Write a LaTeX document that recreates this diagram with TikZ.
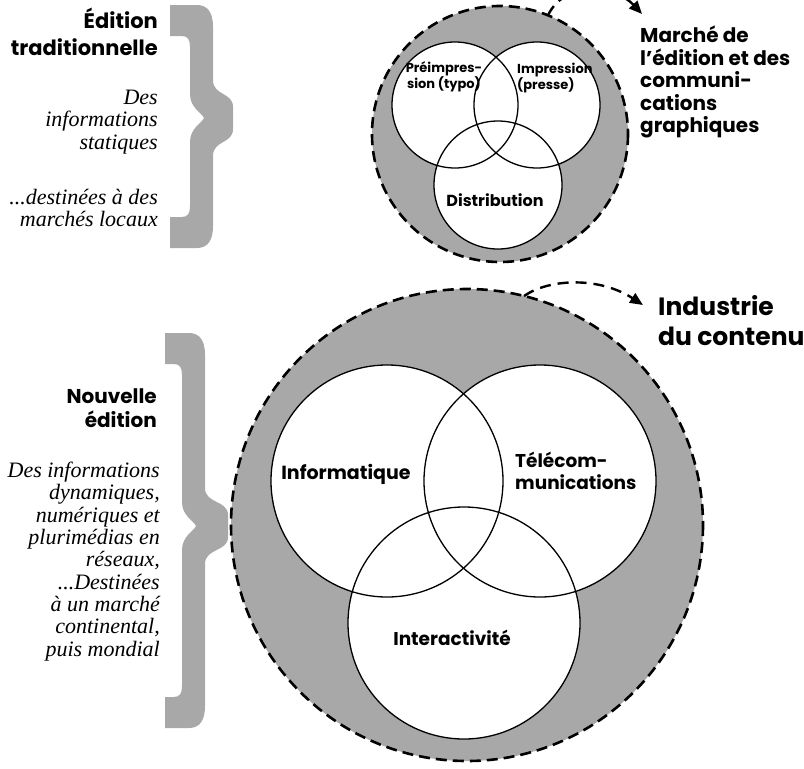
\documentclass[tikz,border=0pt]{standalone}
\usepackage{fontspec}
\setmainfont{Liberation Serif}
\newfontfamily\gsans{Poppins}
\usetikzlibrary{arrows.meta}
\definecolor{screen}{gray}{0.66}
\tikzset{
  outerring/.style={circle, inner sep=0pt, outer sep=0pt, fill=screen},
  ringline/.style={line width=2.6pt, dash pattern=on 11pt off 6pt},
  venn/.style={circle, inner sep=0pt, outer sep=0pt, fill=white},
  vennline/.style={line width=1.3pt},
  head/.style={font=\gsans\bfseries\fontsize{21}{27}\selectfont, inner sep=0pt, align=right, anchor=north east},
  ital/.style={font=\itshape\fontsize{22}{22.3}\selectfont, inner sep=0pt, align=right, anchor=north east},
  lab/.style={inner sep=0pt, font=\gsans\bfseries\fontsize{18.5}{22}\selectfont},
  jump/.style={line width=2.4pt, dash pattern=on 11pt off 7pt, -{Triangle[length=13pt,width=11pt]}}
}
\newcommand\graybrace[7]{%
\fill[screen] (#1,#5) -- ({#3-16},#5) .. controls ({#3-5},#5) and (#3,{#5+8}) .. (#3,{#5+22})
 -- (#3,{#6-38}) .. controls (#3,{#6-22}) and (#4,{#6-26}) .. (#4,{#6-11})
 -- (#4,{#6+11}) .. controls (#4,{#6+26}) and (#3,{#6+22}) .. (#3,{#6+38})
 -- (#3,{#7-22}) .. controls (#3,{#7-8}) and ({#3-5},#7) .. ({#3-16},#7)
 -- (#1,#7) -- (#1,{#7-31}) -- ({#2-8},{#7-31}) .. controls ({#2-2},{#7-31}) and (#2,{#7-35}) .. (#2,{#7-42})
 -- (#2,{#6+24}) .. controls (#2,{#6+10}) and ({#2+12},{#6+5}) .. ({#2+14},#6)
 .. controls ({#2+12},{#6-5}) and (#2,{#6-10}) .. (#2,{#6-24})
 -- (#2,{#5+42}) .. controls (#2,{#5+35}) and ({#2-2},{#5+31}) .. ({#2-8},{#5+31})
 -- (#1,{#5+31}) -- cycle;}
\begin{document}
\begin{tikzpicture}[x=1pt,y=-1pt]
\useasboundingbox (0,0) rectangle (804,769);
\clip (0,0) rectangle (804,769);
% braces
\graybrace{170}{190}{213}{233}{5}{118}{248}
\graybrace{165}{182}{205}{228}{333}{526}{728}
% top diagram
\node[outerring, minimum size=256pt] (mk) at (500,134) {};
\draw[ringline] (mk.center) circle[radius=128];
\node[venn, minimum size=126pt] (pre) at (455,105) {};
\node[venn, minimum size=126pt] (imp) at (537,105) {};
\node[venn, minimum size=128pt] (dis) at (498,185) {};
\draw[vennline] (pre.center) circle[radius=63];
\draw[vennline] (imp.center) circle[radius=63];
\draw[vennline] (dis.center) circle[radius=64];
\node[lab, font=\gsans\bfseries\fontsize{13}{13}\selectfont, align=center] (preL) at (444,77) {Préimpres-\\sion (typo)};
\node[lab, font=\gsans\bfseries\fontsize{13}{13}\selectfont, align=left, anchor=west] (impL) at (517,78) {Impression\\(presse)};
\node[lab, font=\gsans\bfseries\fontsize{16}{20}\selectfont] (disL) at (495,200) {Distribution};
% bottom diagram
\node[outerring, minimum size=472pt] (ind) at (467,525) {};
\draw[ringline] (ind.center) circle[radius=236];
\node[venn, minimum size=232pt] (inf) at (387,481) {};
\node[venn, minimum size=232pt] (tel) at (540,481) {};
\node[venn, minimum size=232pt] (int) at (464,623) {};
\draw[vennline] (inf.center) circle[radius=116];
\draw[vennline] (tel.center) circle[radius=116];
\draw[vennline] (int.center) circle[radius=116];
\node[lab, font=\gsans\bfseries\fontsize{19}{22}\selectfont] (infL) at (346,474) {Informatique};
\node[lab, align=left, anchor=west] (telL) at (515,471) {Télécom-\\munications};
\node[lab] (intL) at (452,638) {Interactivité};
% right labels and arrows
\node[lab, font=\gsans\bfseries\fontsize{20}{22.5}\selectfont, align=left, anchor=north west] (mktL) at (640,26) {Marché de\\l’édition et des\\communi-\\cations\\graphiques};
\node[lab, font=\gsans\bfseries\fontsize{25}{30}\selectfont, align=left, anchor=north west] (indL) at (658,295) {Industrie\\du contenu};
\coordinate (mkTip) at (642,14);
\draw[jump] (mk.68) .. controls (565,-20) and (615,-15) .. (mkTip);
\coordinate (indTip) at (643,305);
\draw[jump] (ind.76) .. controls (550,278) and (600,277) .. (indTip);
% left texts
\node[head] (tradH) at (158,8) {Édition\\traditionnelle};
\node[ital] (tradA) at (158,90) {Des\\informations\\statiques};
\node[ital] (tradB) at (158,189) {...destinées à des\\marchés locaux};
\node[head, font=\gsans\bfseries\fontsize{20}{24}\selectfont] (newH) at (157,388) {Nouvelle\\édition};
\node[ital] (newA) at (160,462) {Des informations\\dynamiques,\\numériques et\\plurimédias en\\réseaux,\\...Destinées\\à un marché\\continental,\\puis mondial};
\end{tikzpicture}
\end{document}
